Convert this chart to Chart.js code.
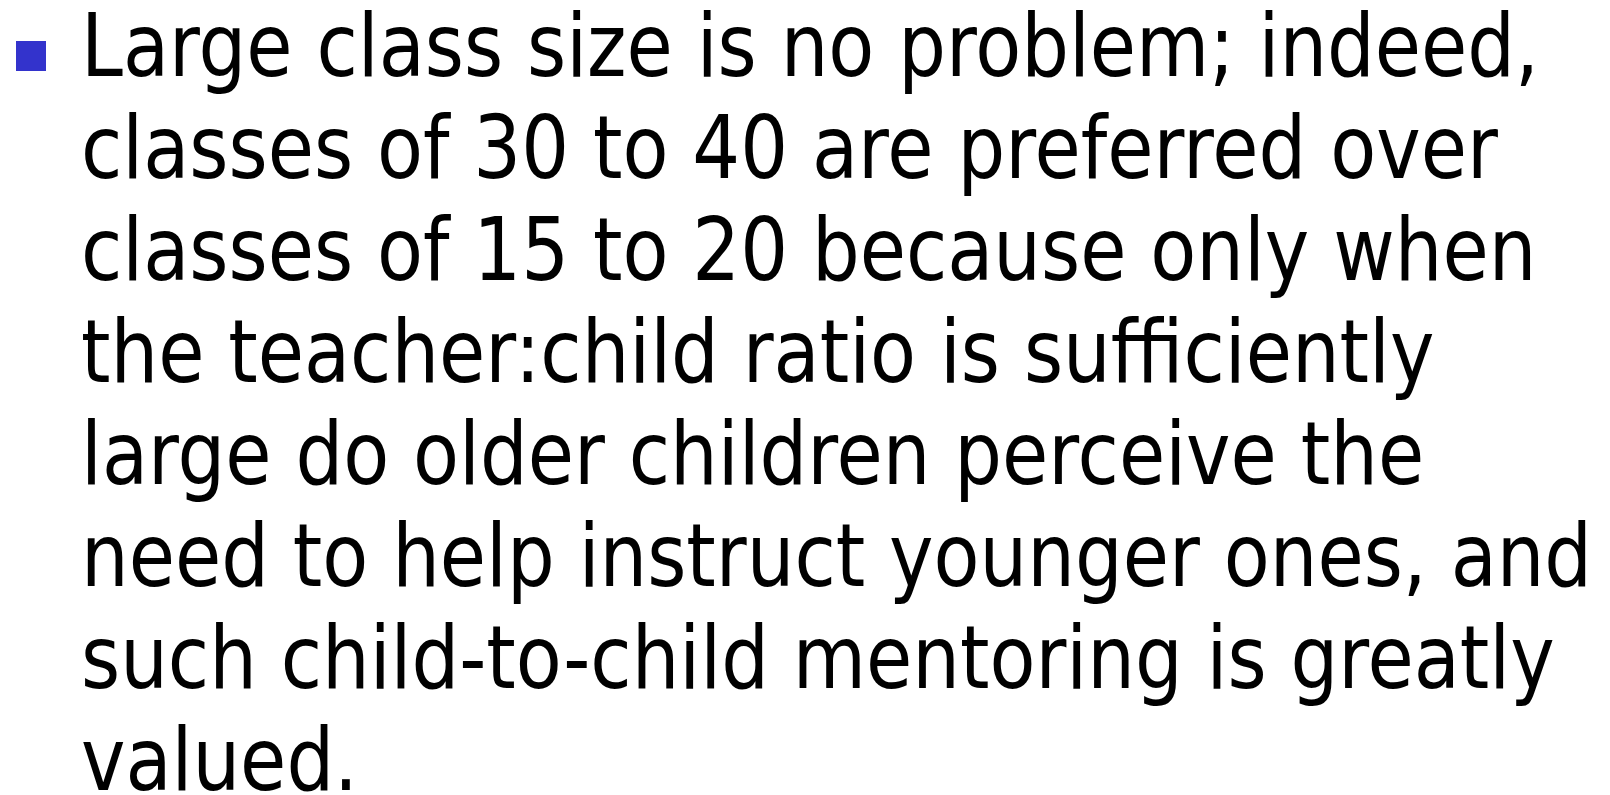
<!DOCTYPE html>
<html>
<head>
<meta charset="utf-8">
<script src="https://cdn.jsdelivr.net/npm/chart.js@4/dist/chart.umd.min.js"></script>
<style>
  html, body { margin: 0; padding: 0; background: #fff; }
  #slide { display: block; }
</style>
</head>
<body>
<canvas id="slide" width="1610" height="795"></canvas>
<script>
// slide text, one entry per rendered line
const lines = [
  'Large class size is no problem; indeed,',
  'classes of 30 to 40 are preferred over',
  'classes of 15 to 20 because only when',
  'the teacher:child ratio is sufficiently',
  'large do older children perceive the',
  'need to help instruct younger ones, and',
  'such child-to-child mentoring is greatly',
  'valued.'
];
const bulletColor = '#3333cc';

document.addEventListener('DOMContentLoaded', () => {
  const ctx = document.getElementById('slide').getContext('2d');

  const slideText = {
    id: 'slideText',
    afterDraw(chart) {
      const c = chart.ctx;
      c.save();
      // bullet
      c.fillStyle = bulletColor;
      c.fillRect(16, 41, 30, 30);

      c.fillStyle = '#000';
      c.font = '88px "DejaVu Sans", Tahoma, sans-serif';
      c.textBaseline = 'alphabetic';
      // squeeze the wide face down to the reference line width
      const sx = 1458 / c.measureText(lines[0]).width;
      lines.forEach((line, i) => {
        c.save();
        c.translate(81, 76 + i * 102);
        c.scale(sx, 1);
        c.fillText(line, 0, 0);
        c.restore();
      });
      c.restore();
    }
  };

  new Chart(ctx, {
    type: 'scatter',
    data: { datasets: [] },
    options: {
      responsive: false,
      animation: false,
      layout: { padding: 0 },
      plugins: { legend: { display: false }, tooltip: { enabled: false } },
      scales: { x: { display: false }, y: { display: false } }
    },
    plugins: [slideText]
  });
});
</script>
</body>
</html>
